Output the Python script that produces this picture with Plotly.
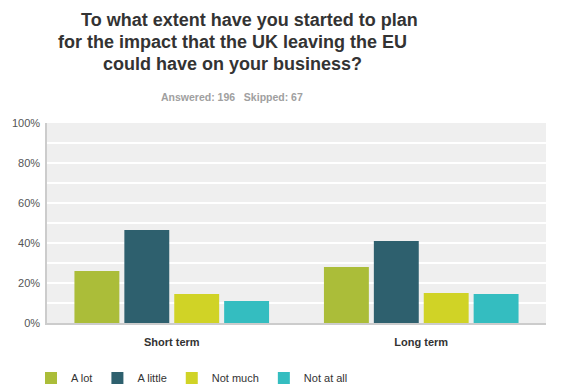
import plotly.graph_objects as go

categories = ["Short term", "Long term"]
category_labels = ["<b>Short term</b>", "<b>Long term</b>"]
series_names = ["A lot", "A little", "Not much", "Not at all"]
a_lot = [26, 28]
a_little = [46.5, 41]
not_much = [14.5, 15]
not_at_all = [11, 14.5]
values = [a_lot, a_little, not_much, not_at_all]
colors = ["#abbd39", "#2e606e", "#d0d326", "#34bdc0"]
y_ticks = [0, 20, 40, 60, 80, 100]
y_tick_labels = ["0%", "20%", "40%", "60%", "80%", "100%"]

W, H = 561, 390
ML, MR, MT, MB = 47, 15, 123, 67
pw, ph = W - ML - MR, H - MT - MB
font_family = "Liberation Sans, Arial, sans-serif"

fig = go.Figure()
for name, vals, col in zip(series_names, values, colors):
    fig.add_trace(go.Bar(x=categories, y=vals, name=name, marker=dict(color=col, line=dict(width=0))))

title_lines = ["\u00a0\u00a0\u00a0\u00a0\u00a0\u00a0\u00a0To what extent have you started to plan",
               "for the impact that the UK leaving the EU",
               "could have on your business?"]
title_y = [20, 42, 64]

def px_x(x):
    return (x - ML) / pw

def px_y(y):
    return (H - y - MB) / ph

anns = []
for line, yy in zip(title_lines, title_y):
    anns.append(dict(text="<b>" + line + "</b>", x=px_x(232), y=px_y(yy), xref="paper", yref="paper",
                     xanchor="center", yanchor="middle", showarrow=False,
                     font=dict(size=18, color="#333333", family=font_family)))
anns.append(dict(text="<b>Answered: 196\u00a0\u00a0\u00a0Skipped: 67</b>", x=px_x(232), y=px_y(97),
                 xref="paper", yref="paper", showarrow=False, xanchor="center", yanchor="middle",
                 font=dict(size=10.5, color="#a0a0a0", family=font_family)))

fig.update_layout(
    width=W, height=H,
    margin=dict(l=ML, r=MR, t=MT, b=MB, autoexpand=False),
    paper_bgcolor="white", plot_bgcolor="#efefef",
    barmode="group", bargap=0.2, bargroupgap=0.1,
    font=dict(family=font_family, color="#333333"),
    showlegend=True,
    legend=dict(orientation="h", xref="container", yref="container", x=31 / W, y=1 - 378 / H,
                xanchor="left", yanchor="middle",
                font=dict(size=11, color="#333333"), itemwidth=30, traceorder="normal"),
    xaxis=dict(showline=True, linecolor="#cccccc", linewidth=1.5, automargin=False,
               tickvals=categories, ticktext=category_labels,
               tickfont=dict(size=11, color="#333333"), ticklabelstandoff=8),
    yaxis=dict(range=[0, 100], tickvals=y_ticks, ticktext=y_tick_labels, showgrid=True, gridcolor="white",
               gridwidth=1.5, minor=dict(dtick=10, showgrid=True, gridcolor="white", gridwidth=1.5),
               showline=True, linecolor="#cccccc", linewidth=1.5, automargin=False,
               tickfont=dict(size=11, color="#555555"), zeroline=False, ticklabelstandoff=3),
    annotations=anns,
)
fig.write_html("out.html", config={"displayModeBar": False},
               post_script="document.body.style.margin='0';document.body.style.overflow='hidden';")
